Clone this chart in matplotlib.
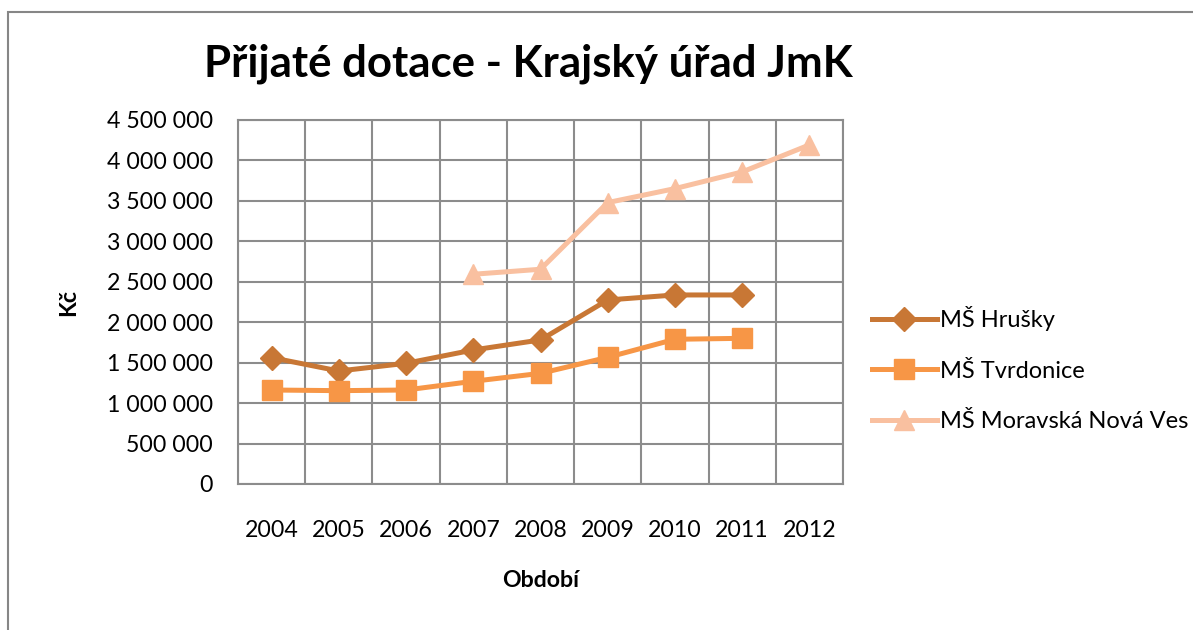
import matplotlib
matplotlib.use("Agg")
import matplotlib.pyplot as plt
import numpy as np
from matplotlib.patches import Rectangle
from matplotlib.ticker import FuncFormatter, MultipleLocator

years = ["2004", "2005", "2006", "2007", "2008", "2009", "2010", "2011", "2012"]
hrusky = [1562000, 1397000, 1492000, 1657000, 1781000, 2275000, 2337000, 2337000, np.nan]
tvrdonice = [1162000, 1154000, 1162000, 1270000, 1368000, 1566000, 1789000, 1801000, np.nan]
moravska = [np.nan, np.nan, np.nan, 2593000, 2655000, 3479000, 3652000, 3858000, 4192000]
series_names = ["MŠ Hrušky", "MŠ Tvrdonice", "MŠ Moravská Nová Ves"]

plt.rcParams['font.family'] = ['Lato', 'DejaVu Sans']

W, H = 1193, 630
fig = plt.figure(figsize=(W / 100, H / 100), dpi=100)
fig.patch.set_facecolor('white')

# outer chart border
fig.patches.append(Rectangle((8 / W, -0.2), 2.0, (H - 12) / H + 0.2, transform=fig.transFigure,
                             fill=False, edgecolor='#868686', linewidth=1.5, clip_on=False))

left, right, top, bottom = 238, 843, 120, 484
ax = fig.add_axes([left / W, (H - bottom) / H, (right - left) / W, (bottom - top) / H])

x = np.arange(len(years))
grid_c = '#8c8c8c'
ax.plot(x, hrusky, color='#C87735', lw=3.6, marker='D', ms=12, label=series_names[0], zorder=3)
ax.plot(x, tvrdonice, color='#F79646', lw=3.6, marker='s', ms=14, label=series_names[1], zorder=3)
ax.plot(x, moravska, color='#F9C0A0', lw=3.6, marker='^', ms=15, label=series_names[2], zorder=3)

ax.set_xlim(-0.5, len(years) - 0.5)
ax.set_ylim(0, 4500000)
ax.yaxis.set_major_locator(MultipleLocator(500000))
ax.yaxis.set_major_formatter(FuncFormatter(lambda v, p: f"{int(v):,}".replace(",", " ")))
ax.set_xticks(x)
ax.set_xticklabels(years)
ax.set_xticks(np.arange(-0.5, len(years), 1.0), minor=True)
ax.grid(True, which='major', axis='y', color=grid_c, lw=1.5)
ax.grid(True, which='minor', axis='x', color=grid_c, lw=1.5)
ax.set_axisbelow(True)
for s in ax.spines.values():
    s.set_color(grid_c)
    s.set_linewidth(1.5)
ax.tick_params(axis='both', which='both', length=0, labelsize=16.7, colors='black')
ax.tick_params(axis='y', pad=18)
ax.tick_params(axis='x', pad=26)

ax.set_ylabel("Kč", fontsize=16.7, fontweight='bold', labelpad=20)
ax.set_xlabel("Období", fontsize=16.7, fontweight='bold', labelpad=21)

fig.text(528 / W, 1 - 64 / H, "Přijaté dotace - Krajský úřad JmK", fontsize=31.5, fontweight='bold',
         ha='center', va='center')

fig.legend(loc='upper left', bbox_to_anchor=(872 / W, 1 - 306 / H), frameon=False,
           fontsize=17, handlelength=2.75, handletextpad=0.15, labelspacing=1.25,
           borderpad=0, borderaxespad=0)

fig.savefig("out.png", dpi=100)
